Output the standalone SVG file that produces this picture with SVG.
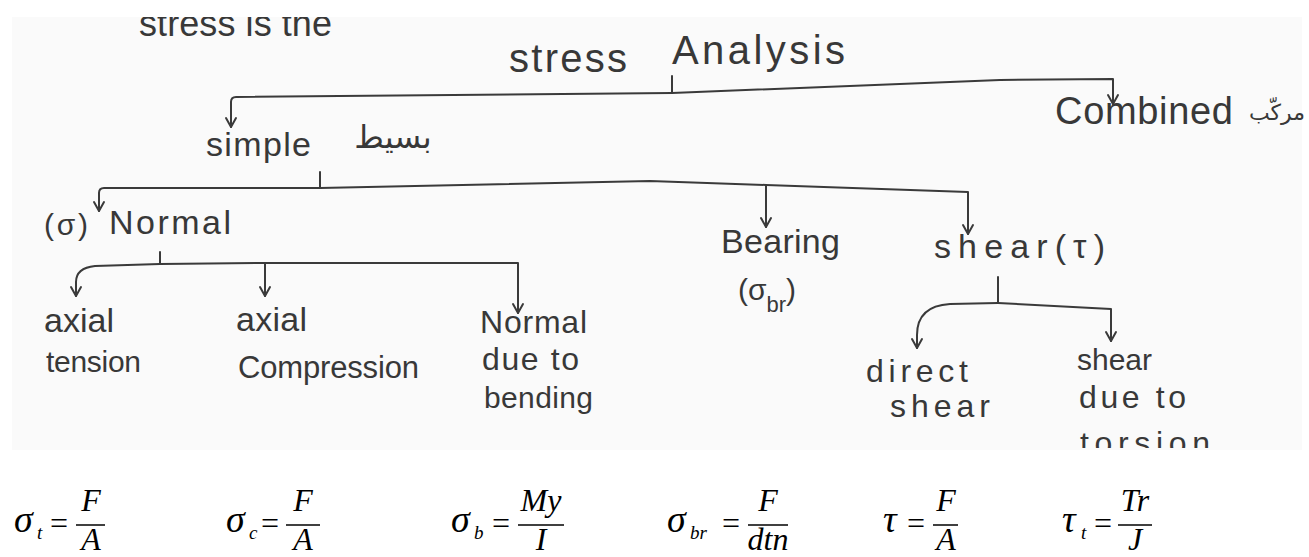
<svg xmlns="http://www.w3.org/2000/svg" width="1309" height="557" viewBox="0 0 1309 557">
<style>
.hw{font-family:"Liberation Sans","DejaVu Sans",sans-serif;fill:#383838;}
.ar{font-family:"DejaVu Sans","Noto Sans",sans-serif;fill:#383838;}
.ln{fill:none;stroke:#3a3a3a;stroke-width:2;stroke-linecap:round;stroke-linejoin:round;}
.mi{font-family:"Liberation Serif","Times New Roman",serif;font-style:italic;fill:#000;}
.mo{font-family:"Liberation Serif","Times New Roman",serif;fill:#000;}
.bar{stroke:#000;stroke-width:1.5;}
</style>
<defs>
<marker id="arr" viewBox="-11 -7 13 14" refX="0" refY="0" markerWidth="13" markerHeight="14" markerUnits="userSpaceOnUse" orient="auto">
<path d="M-9,-5 L0,0 L-9,5" fill="none" stroke="#3a3a3a" stroke-width="2" stroke-linecap="round" stroke-linejoin="round"/>
</marker>
<clipPath id="photo"><rect x="0" y="17" width="1309" height="431"/></clipPath>
</defs>
<rect x="0" y="0" width="1309" height="557" fill="#ffffff"/>
<rect x="12" y="17" width="1290" height="433" fill="#fafafa"/>

<g id="header" clip-path="url(#photo)">
<text class="hw" x="139" y="36" font-size="36" textLength="193">stress is the</text>
</g>

<g id="node-root">
<text class="hw" x="509" y="72" font-size="40" textLength="118">stress</text>
<text class="hw" x="672" y="64" font-size="40" textLength="173">Analysis</text>
</g>

<g id="node-simple">
<text class="hw" x="206" y="156" font-size="34" textLength="105">simple</text>
<text class="ar" x="393" y="148" font-size="32" text-anchor="middle">بسيط</text>
</g>

<g id="node-combined">
<text class="hw" x="1055" y="124" font-size="38" textLength="178">Combined</text>
<text class="ar" x="1277" y="120" font-size="22" text-anchor="middle">مركّب</text>
</g>

<g id="node-normal">
<text class="hw" x="44" y="235" font-size="30" textLength="44">(σ)</text>
<text class="hw" x="109" y="234" font-size="34" textLength="122">Normal</text>
</g>

<g id="node-bearing">
<text class="hw" x="721" y="253" font-size="34" textLength="119">Bearing</text>
<text class="hw" x="738" y="300" font-size="30">(σ<tspan font-size="22" dy="12">br</tspan><tspan dy="-12">)</tspan></text>
</g>

<g id="node-shear">
<text class="hw" x="934" y="258" font-size="34" textLength="171">shear(τ)</text>
</g>

<g id="node-axial-tension">
<text class="hw" x="44" y="332" font-size="34" textLength="70">axial</text>
<text class="hw" x="46" y="372" font-size="30" textLength="95">tension</text>
</g>

<g id="node-axial-compression">
<text class="hw" x="236" y="331" font-size="34" textLength="71">axial</text>
<text class="hw" x="238" y="378" font-size="31" textLength="181">Compression</text>
</g>

<g id="node-normal-bending">
<text class="hw" x="480" y="333" font-size="32" textLength="107">Normal</text>
<text class="hw" x="482" y="370" font-size="32" textLength="97">due to</text>
<text class="hw" x="484" y="408" font-size="30" textLength="109">bending</text>
</g>

<g id="node-direct-shear">
<text class="hw" x="866" y="382" font-size="32" textLength="102">direct</text>
<text class="hw" x="890" y="417" font-size="32" textLength="100">shear</text>
</g>

<g id="node-shear-torsion" clip-path="url(#photo)">
<text class="hw" x="1077" y="370" font-size="30" textLength="75">shear</text>
<text class="hw" x="1079" y="408" font-size="32" textLength="107">due to</text>
<text class="hw" x="1080" y="454" font-size="32" textLength="130">torsion</text>
</g>

<g id="connectors">
<path class="ln" d="M672,76 L672,92"/>
<path class="ln" d="M672,93 L236,97 Q231,97 231,102 L231,127" marker-end="url(#arr)"/>
<path class="ln" d="M672,93 L1000,80 L1113,79 L1113,104" marker-end="url(#arr)"/>

<path class="ln" d="M320,172 L320,188"/>
<path class="ln" d="M320,188 L104,188 Q99,188 99,193 L99,211" marker-end="url(#arr)"/>
<path class="ln" d="M320,188 L650,181 L766,185 L968,192 L968,234" marker-end="url(#arr)"/>
<path class="ln" d="M766,185 L766,227" marker-end="url(#arr)"/>

<path class="ln" d="M160,252 L160,264"/>
<path class="ln" d="M160,264 L95,266 Q76,268 76,282 L76,296" marker-end="url(#arr)"/>
<path class="ln" d="M160,264 L265,263 L518,263 L518,313" marker-end="url(#arr)"/>
<path class="ln" d="M265,263 L265,296" marker-end="url(#arr)"/>

<path class="ln" d="M998,277 L998,303"/>
<path class="ln" d="M998,303 L950,304 Q917,306 917,335 L917,348" marker-end="url(#arr)"/>
<path class="ln" d="M998,303 L1111,309 L1111,341" marker-end="url(#arr)"/>
</g>

<g id="formulas">
<g id="f-tension">
<text class="mi" x="14" y="532" font-size="38">σ</text>
<text class="mi" x="37" y="539" font-size="19">t</text>
<text class="mo" x="50" y="534" font-size="32">=</text>
<line class="bar" x1="76" y1="525" x2="105" y2="525"/>
<text class="mi" x="91" y="511" font-size="32" text-anchor="middle">F</text>
<text class="mi" x="91" y="550" font-size="32" text-anchor="middle">A</text>
</g>
<g id="f-compression">
<text class="mi" x="226" y="532" font-size="38">σ</text>
<text class="mi" x="249" y="539" font-size="19">c</text>
<text class="mo" x="261" y="534" font-size="32">=</text>
<line class="bar" x1="286" y1="525" x2="320" y2="525"/>
<text class="mi" x="303" y="511" font-size="32" text-anchor="middle">F</text>
<text class="mi" x="303" y="550" font-size="32" text-anchor="middle">A</text>
</g>
<g id="f-bending">
<text class="mi" x="451" y="532" font-size="38">σ</text>
<text class="mi" x="474" y="539" font-size="19">b</text>
<text class="mo" x="492" y="534" font-size="32">=</text>
<line class="bar" x1="518" y1="525" x2="564" y2="525"/>
<text class="mi" x="541" y="511" font-size="32" text-anchor="middle">My</text>
<text class="mi" x="541" y="550" font-size="32" text-anchor="middle">I</text>
</g>
<g id="f-bearing">
<text class="mi" x="667" y="532" font-size="38">σ</text>
<text class="mi" x="690" y="539" font-size="19">br</text>
<text class="mo" x="722" y="534" font-size="32">=</text>
<line class="bar" x1="748" y1="525" x2="788" y2="525"/>
<text class="mi" x="768" y="511" font-size="32" text-anchor="middle">F</text>
<text class="mi" x="768" y="550" font-size="32" text-anchor="middle">dtn</text>
</g>
<g id="f-shear">
<text class="mi" x="883" y="532" font-size="38">τ</text>
<text class="mo" x="907" y="534" font-size="32">=</text>
<line class="bar" x1="933" y1="525" x2="958" y2="525"/>
<text class="mi" x="946" y="511" font-size="32" text-anchor="middle">F</text>
<text class="mi" x="946" y="550" font-size="32" text-anchor="middle">A</text>
</g>
<g id="f-torsion">
<text class="mi" x="1062" y="532" font-size="38">τ</text>
<text class="mi" x="1081" y="539" font-size="19">t</text>
<text class="mo" x="1094" y="534" font-size="32">=</text>
<line class="bar" x1="1118" y1="525" x2="1152" y2="525"/>
<text class="mi" x="1135" y="511" font-size="32" text-anchor="middle">Tr</text>
<text class="mi" x="1135" y="550" font-size="32" text-anchor="middle">J</text>
</g>
</g>
</svg>
